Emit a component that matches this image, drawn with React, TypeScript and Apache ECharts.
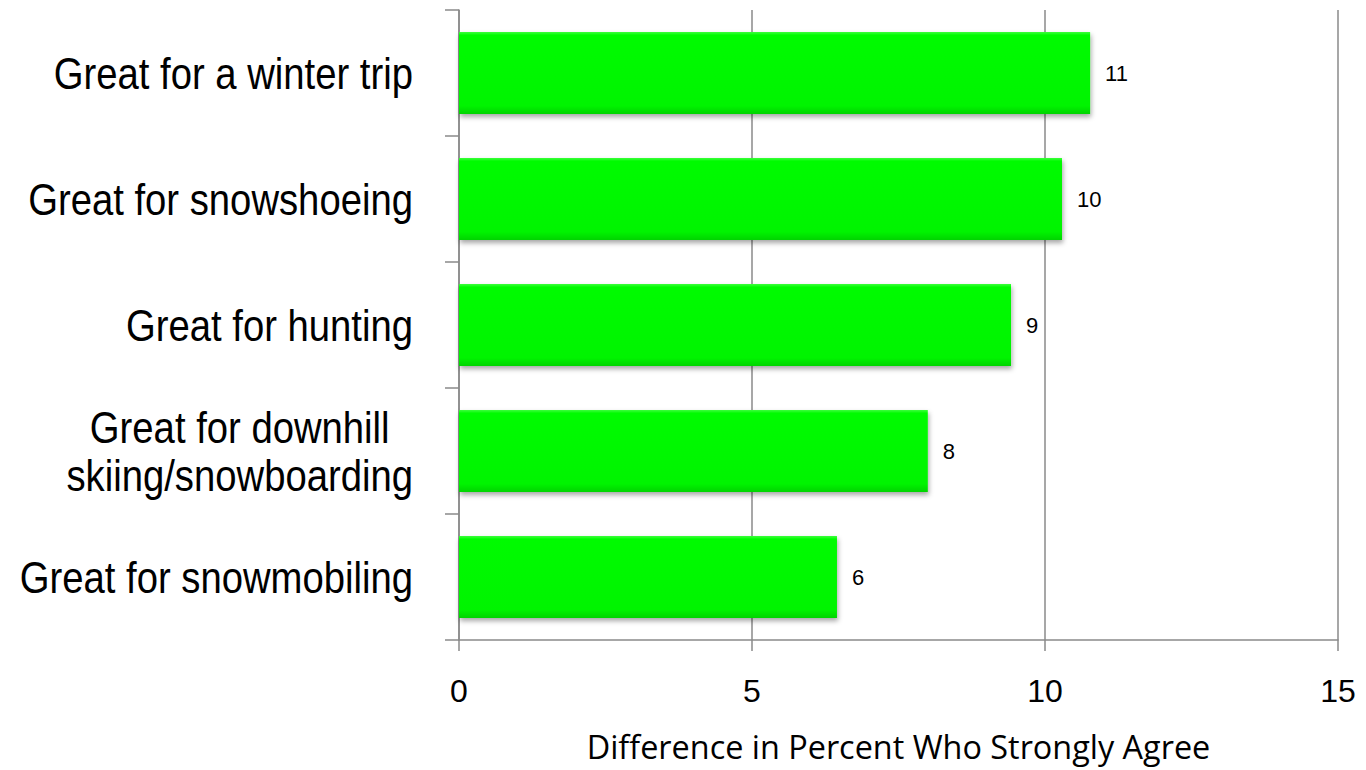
import React, { useEffect, useRef } from "react";
import * as echarts from "echarts";

const categories: string[] = [
  "Great for a winter trip",
  "Great for snowshoeing",
  "Great for hunting",
  "Great for downhill\nskiing/snowboarding",
  "Great for snowmobiling",
];
const values: number[] = [10.77, 10.29, 9.42, 8.0, 6.45];
const axisName = "Difference in Percent Who Strongly Agree";
const xMin = 0;
const xMax = 15;
const xInterval = 5;

export default function App() {
  const ref = useRef<HTMLDivElement>(null);
  useEffect(() => {
    if (!ref.current) return;
    const chart = echarts.init(ref.current, undefined, { renderer: "svg" });
    const gray = "#8a8a8a";
    const arial = "'Liberation Sans', Arial, sans-serif";
    chart.setOption({
      animation: false,
      backgroundColor: "#ffffff",
      grid: { left: 459, top: 10, right: 28, bottom: 130, outerBoundsMode: "none" },
      xAxis: {
        type: "value",
        min: xMin,
        max: xMax,
        interval: xInterval,
        name: axisName,
        nameLocation: "middle",
        nameGap: 90,
        nameTextStyle: { fontFamily: "'Open Sans', sans-serif", fontSize: 32.4, color: "#000" },
        axisLine: { show: true, lineStyle: { color: gray, width: 1.5 } },
        axisTick: { show: true, length: 11, lineStyle: { color: gray, width: 1.5 } },
        splitLine: { show: true, lineStyle: { color: gray, width: 1.5 } },
        axisLabel: {
          margin: 35,
          fontFamily: arial,
          fontSize: 32,
          color: "#000",
        },
      },
      yAxis: {
        type: "category",
        data: categories,
        inverse: true,
        axisLine: { show: true, lineStyle: { color: gray, width: 1.5 } },
        axisTick: { show: true, length: 14, alignWithLabel: false, lineStyle: { color: gray, width: 1.5 } },
        splitLine: { show: false },
        axisLabel: { show: false },
      },
      series: [
        {
          type: "bar",
          data: values,
          barWidth: 82,
          itemStyle: {
            color: new echarts.graphic.LinearGradient(0, 0, 0, 1, [
              { offset: 0, color: "#3cff3c" },
              { offset: 0.04, color: "#00fb00" },
              { offset: 0.9, color: "#00f400" },
              { offset: 1, color: "#00d400" },
            ]),
            shadowColor: "rgba(0,0,0,0.35)",
            shadowBlur: 5,
            shadowOffsetX: 1,
            shadowOffsetY: 3,
          },
          label: {
            show: true,
            position: "right",
            distance: 15,
            fontFamily: arial,
            fontSize: 22,
            color: "#000",
            formatter: (p: any) => String(Math.round(p.value)),
          },
        },
      ],
    });

    // Category labels (narrow Arial look) placed through the y axis scale
    const axisX = chart.convertToPixel({ xAxisIndex: 0 }, xMin) as number;
    const labelEls = categories.map((c, i) => {
      const y = chart.convertToPixel({ yAxisIndex: 0 }, i) as number;
      return {
        type: "text",
        x: axisX - 46,
        y,
        scaleX: 0.85,
        silent: true,
        style: {
          text: c.split("\n").map((l) => `{c|${l}}`).join("\n"),
          align: "right",
          verticalAlign: "middle",
          fill: "#000",
          font: `45px ${arial}`,
          rich: {
            c: {
              align: "center",
              fontFamily: arial,
              fontSize: 45,
              lineHeight: 48,
              fill: "#000",
            },
          },
        },
      };
    });
    chart.setOption({ graphic: { elements: labelEls } });

    return () => chart.dispose();
  }, []);
  return (
    <div
      ref={ref}
      style={{ position: "fixed", left: 0, top: 0, width: 1366, height: 770 }}
    />
  );
}
